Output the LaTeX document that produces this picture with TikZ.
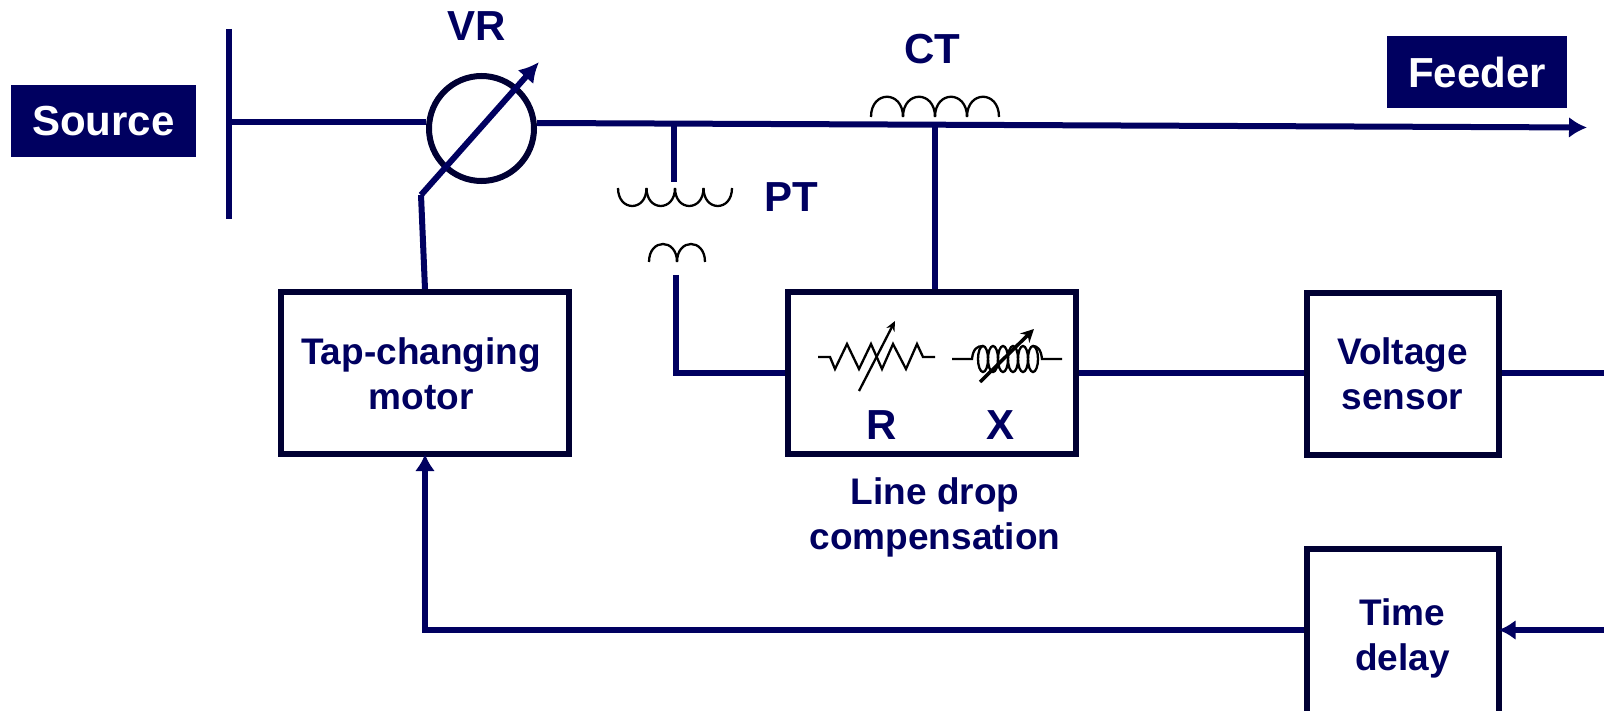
\documentclass[tikz,border=0pt]{standalone}
\usepackage{fontspec}
\setmainfont{Liberation Sans}
\usepackage{xcolor}
\usetikzlibrary{arrows.meta}
\definecolor{navyline}{HTML}{000060}
\definecolor{navydark}{HTML}{000033}

\begin{document}
\begin{tikzpicture}[x=1pt, y=-1pt,
    blockbox/.style={draw=navydark, line width=6pt, fill=white, inner sep=0pt, align=center, text=navyline,
        font=\fontsize{37}{45}\selectfont\bfseries},
    tagbox/.style={fill=navyline, text=white, inner sep=0pt, font=\fontsize{42}{50}\selectfont\bfseries},
    labeltxt/.style={text=navyline, inner sep=0pt, align=center, font=\fontsize{42}{50}\selectfont\bfseries},
    smalltxt/.style={text=navyline, inner sep=0pt, align=center, font=\fontsize{37}{45}\selectfont\bfseries},
    wire/.style={draw=navyline, line width=6pt},
    wirearrow/.style={wire, shorten >=-3pt, -{Latex[length=17pt,width=20pt]}},
    coilline/.style={draw=black, line width=2.3pt},
    symbolline/.style={draw=black, line width=2.3pt}]
    \useasboundingbox (0,0) rectangle (1604,711);

    % Source and feeder
    \node[tagbox, minimum width=185pt, minimum height=72pt, text depth=0pt] (source) at (103.5,121) {Source};
    \node[tagbox, minimum width=180pt, minimum height=72pt, text depth=0pt] (feeder) at (1477,72) {Feeder};

    % Bus bar and main line
    \coordinate (busTop) at (229,29);
    \coordinate (busBot) at (229,219);
    \coordinate (busMid) at (229,122);
    \coordinate (lineEnd) at (1587,127.5);
    \coordinate (ptTap) at (674,124);
    \coordinate (ctTap) at (935,125);
    \draw[wire] (busTop) -- (busBot);

    % Voltage regulator
    \node[draw=navydark, line width=6pt, circle, minimum size=105pt, inner sep=0pt] (vr) at (481.5,128.5) {};
    \node[labeltxt] (vrlabel) at (477,26) {VR};
    \draw[wire] (busMid) -- (vr.west |- busMid);
    \draw[wire, -{Latex[length=18pt,width=21pt]}] (vr.east |- 0,123) -- (lineEnd);

    % Blocks
    \node[blockbox, minimum width=288pt, minimum height=162pt] (motor) at (425,373) {};
    \node[smalltxt] (motortxt) at (421,374) {Tap-changing\\motor};
    \node[blockbox, minimum width=288pt, minimum height=162pt] (ldc) at (932,373) {};
    \node[blockbox, minimum width=192pt, minimum height=162pt] (sensor) at (1402.5,374) {Voltage\\sensor};
    \node[blockbox, minimum width=192pt, minimum height=178pt] (delay) at (1402.5,638) {Time\\delay};
    \node[smalltxt] (ldclabel) at (935,517) {Line drop\\compensation};

    % Tap changer arrow
    \coordinate (tapKnee) at (421,195);
    \coordinate (tapTip) at (539,62);
    \draw[wire] (motor.north) -- (tapKnee);
    \draw[wire, -{Latex[length=20pt,width=21pt]}] (tapKnee) -- (tapTip);

    % PT
    \coordinate (ptTop) at (674,182);
    \coordinate (ptSec) at (676,275);
    \draw[wire] (ptTap) -- (ptTop);
    \foreach \x in {618,646.5,675,703.5}
        \draw[coilline] (\x,188) .. controls (\x,212) and ({\x+28.5},212) .. ({\x+28.5},188);
    \foreach \x in {649,677}
        \draw[coilline] (\x,262) .. controls (\x,238) and ({\x+28},238) .. ({\x+28},262);
    \draw[wire] (ptSec) |- (ldc.west);
    \node[labeltxt] (ptlabel) at (791,197) {PT};

    % CT
    \foreach \x in {871,903,935,967}
        \draw[coilline] (\x,117) .. controls (\x,90) and ({\x+32},90) .. ({\x+32},117);
    \draw[wire] (ctTap) -- (ldc.north -| ctTap);
    \node[labeltxt] (ctlabel) at (932,49) {CT};

    % R symbol
    \draw[symbolline] (818,357) -- (830,357) -- (835,369) -- (847,344) -- (859,369) -- (871,344) -- (882,369)
        -- (893,344) -- (906,369) -- (917,344) -- (923,357) -- (935,357);
    \draw[symbolline, -{Stealth[length=10pt,width=9pt]}] (859,391) -- (895,321);
    \node[labeltxt] (rlabel) at (882,425) {R};

    % X symbol
    \draw[symbolline] (952,359) -- (972,359) .. controls (973,349) and (977,346) .. (983,346);
    \draw[symbolline] (1033,346) .. controls (1037,346) and (1041,349) .. (1042,359) -- (1062,359);
    \foreach \x in {983,993,1003,1013,1023,1033}
        \draw[symbolline] (\x,359) ellipse (5pt and 13pt);
    \draw[symbolline, line width=3.5pt, -{Stealth[length=13pt,width=13pt]}] (980,382) -- (1034,329);
    \node[labeltxt] (xlabel) at (1000,425) {X};

    % Signal path
    \coordinate (sensorOut) at (1604,373);
    \coordinate (delayIn) at (1604,630);
    \draw[wire] (ldc.east) -- (sensor.west |- ldc.east);
    \draw[wire] (sensor.east |- sensorOut) -- (sensorOut);
    \draw[wirearrow] (delayIn) -- (delay.east |- delayIn);
    \draw[wirearrow] (delay.west |- delayIn) -| (motor.south);
\end{tikzpicture}
\end{document}
